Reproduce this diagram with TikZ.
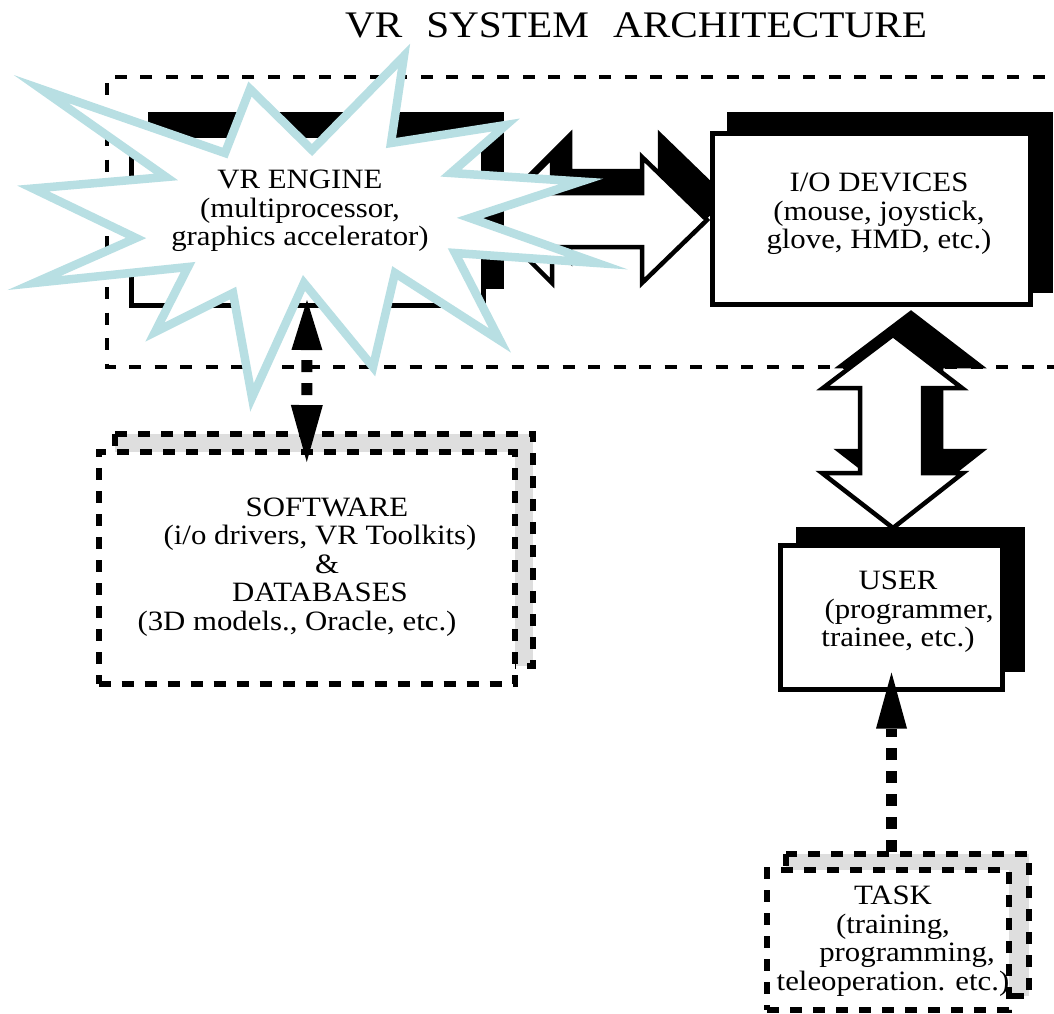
\documentclass[tikz,border=0pt]{standalone}
\usepackage{fontspec}
\setmainfont{Liberation Serif}[FakeStretch=1.1]
\usetikzlibrary{arrows.meta,calc}
\definecolor{starblue}{RGB}{184,223,227}
\definecolor{shadegray}{RGB}{222,222,222}

\begin{document}
\begin{tikzpicture}[x=1pt,y=-1pt,
  vrframe/.style={line width=3.5pt, dash pattern=on 12pt off 13.5pt},
  solidshadow/.style={fill=black},
  solidbox/.style={draw=black, fill=white, line width=5pt, inner sep=0pt, outer sep=0pt},
  dashbox/.style={draw=black, fill=white, line width=6pt, dash pattern=on 12pt off 11pt, inner sep=0pt, outer sep=0pt},
  dashshadow/.style={draw=black, fill=shadegray, line width=6pt, dash pattern=on 12pt off 11pt},
  blockarrow/.style={draw=black, fill=white, line width=4.5pt, line join=miter},
  blockshadow/.style={draw=black, fill=black, line width=4.5pt, line join=miter},
  burst/.style={draw=starblue, fill=white, line width=8.5pt, line join=miter, miter limit=40},
  dotconn/.style={line width=11pt, dash pattern=on 12pt off 11pt},
  lbl/.style={align=center, inner sep=0pt, font=\fontsize{28}{28.5}\selectfont},
]
\useasboundingbox (0,0) rectangle (1054,1013);

% title
\node[inner sep=0pt, font=\fontsize{37.5}{40}\selectfont] (title) at (636,25)
  {VR\hspace{24pt}SYSTEM\hspace{24pt}ARCHITECTURE};

% dashed frame
\draw[vrframe] (1070,77) -- (107,77) -- (107,367) -- (1070,367);

% horizontal double block arrow
\filldraw[blockshadow, shift={(18,-22)}] (489,220) -- (552,157) -- (552,193) -- (642,193) -- (642,157)
  -- (707,220) -- (642,283) -- (642,247) -- (552,247) -- (552,283) -- cycle;
\filldraw[blockarrow] (489,220) -- (552,157) -- (552,193) -- (642,193) -- (642,157)
  -- (707,220) -- (642,283) -- (642,247) -- (552,247) -- (552,283) -- cycle;

% vertical double block arrow
\filldraw[blockshadow, shift={(18,-22)}] (893,335) -- (962,388) -- (923,388) -- (923,473) -- (963,473)
  -- (893,528) -- (822,473) -- (860,473) -- (860,388) -- (823,388) -- cycle;
\filldraw[blockarrow] (893,335) -- (962,388) -- (923,388) -- (923,473) -- (963,473)
  -- (893,528) -- (822,473) -- (860,473) -- (860,388) -- (823,388) -- cycle;

% VR engine
\fill[solidshadow] (148,112) rectangle (504,289);
\node[solidbox, minimum width=352pt, minimum height=170pt] (engine) at (307,220) {};

% I/O devices
\fill[solidshadow] (727,112) rectangle (1053,293);
\node[solidbox, minimum width=318pt, minimum height=171pt] (io) at (871.5,219) {};

% starburst
\filldraw[burst] (41,89) -- (225,153) -- (250,89) -- (312,150) -- (404,56) -- (391,143)
  -- (506,125) -- (451,173) -- (581,181.5) -- (470,218) -- (597,263) -- (455,253)
  -- (500,340.5) -- (395,273) -- (373,367) -- (304,283) -- (252,397.5) -- (233,293)
  -- (155,332) -- (188,267) -- (34,283) -- (136,238) -- (33,188.5) -- (166,177) -- cycle;

% user
\fill[solidshadow] (796,527) rectangle (1025,672);
\node[solidbox, minimum width=222pt, minimum height=144pt] (user) at (891.5,617.5) {};

% software & databases
\filldraw[dashshadow] (115,434) rectangle (533,666);
\node[dashbox, minimum width=416.5pt, minimum height=232pt] (soft) at (306.75,568) {};

% engine <-> software
\draw[dotconn, dash phase=13pt,
  {Triangle[length=50pt,width=31pt,line width=0pt]}-{Triangle[length=57pt,width=32pt,line width=0pt]}]
  ([yshift=5pt]engine.south) -- ([yshift=-10pt]soft.north);

% task
\filldraw[dashshadow] (786,854) rectangle (1029,996);
\node[dashbox, minimum width=242pt, minimum height=140pt] (task) at (888,940) {};

% task -> user
\coordinate (taskout) at ($(user.south |- task.north)+(0,-18)$);
\draw[dotconn, -{Triangle[length=56pt,width=31pt,line width=0pt]}]
  (taskout) -- ([yshift=17pt]user.south);

% texts
\node[lbl] (engine-text) at (300,211) {VR ENGINE\\(multiprocessor,\hspace*{26pt}\\graphics accelerator)};
\node[lbl] (io-text) at (879,214) {I/O DEVICES\\(mouse, joystick,\\glove, HMD, etc.)};
\node[lbl] (user-text) at (898,612) {USER\\\hspace*{22pt}(programmer,\\trainee, etc.)};
\node[lbl] (soft-text) at (320,567) {\hspace*{14pt}SOFTWARE\\(i/o drivers, VR Toolkits)\\\hspace*{14pt}\&\\DATABASES\\(3D models., Oracle, etc.)\hspace*{46pt}};
\node[lbl] (task-text) at (893,941) {TASK\\(training,\\\hspace*{28pt}programming,\\teleoperation. etc.)};
\end{tikzpicture}
\end{document}
